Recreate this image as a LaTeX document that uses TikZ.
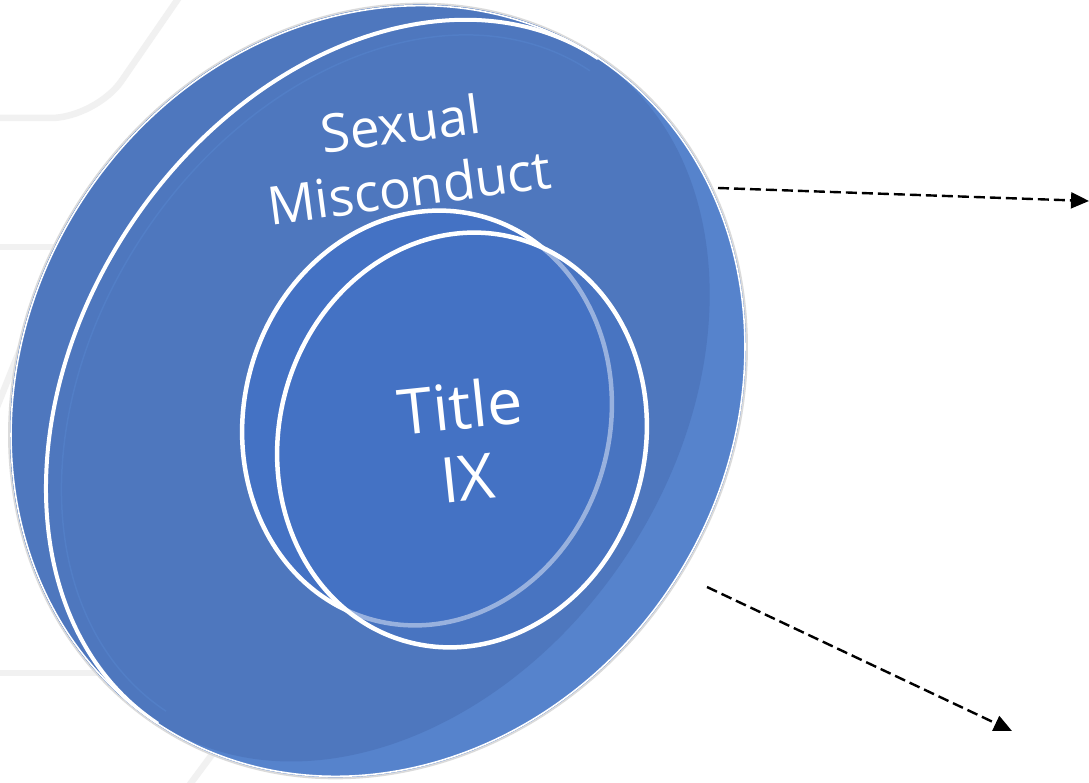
\documentclass[tikz,border=0pt]{standalone}
\usepackage{fontspec}
\setmainfont{Open Sans}
\usetikzlibrary{arrows.meta}
\definecolor{facebl}{HTML}{4E77BE}
\definecolor{bandbl}{HTML}{5683CC}
\definecolor{coinbl}{HTML}{4472C4}
\definecolor{bggray}{HTML}{F1F1F1}
\begin{document}
\begin{tikzpicture}[x=1pt,y=1pt,
  bgline/.style={draw=bggray,line width=6.5pt},
  disclabel/.style={text=white,align=center,inner sep=0pt},
  connector/.style={draw=black,line width=2.4pt,dash pattern=on 11pt off 5pt,-{Triangle[length=18pt,width=16pt]}},
  whitering/.style={draw=white,line width=4.5pt}]
\useasboundingbox (0,0) rectangle (1089,782);
\fill[white] (0,0) rectangle (1089,782);
% faint background lines
\draw[bgline,rounded corners=45pt] (180,786) -- (96,664) -- (-5,664);
\draw[bgline] (-5,535) -- (80,535);
\draw[bgline] (-5,109) -- (120,109);
\draw[bgline] (188,-5) -- (225,45);
\draw[bgline] (-5,370) -- (25,445);
% big disc
\begin{scope}[shift={(378,391)},rotate=56.5]
  \fill[black!14] (0,0) ellipse [x radius=402, y radius=355];
  \begin{scope}
    \clip (0,0) ellipse [x radius=400, y radius=353];
    \fill[bandbl] (-420,-420) rectangle (420,420);
    \fill[facebl] (-420,0) rectangle (420,420);
    \fill[facebl] (0,0) ellipse [x radius=398, y radius=298];
    \draw[color=bandbl!55!facebl, line width=1.5pt] (384,0) arc[start angle=0,end angle=180,x radius=384,y radius=282];
  \end{scope}
  \draw[white,line width=1.6pt] (0,0) ellipse [x radius=399, y radius=352];
  \begin{scope}
    \clip (0,0) ellipse [x radius=400, y radius=353];
    \draw[whitering,line width=4pt] (399,0) arc[start angle=0,end angle=180,x radius=399,y radius=298];
  \end{scope}
\end{scope}
% inner coin: back ring
\begin{scope}[shift={(427,364)},rotate=75]
  \fill[coinbl] (0,0) ellipse [x radius=209, y radius=183];
  \draw[whitering] (0,0) ellipse [x radius=209, y radius=183];
\end{scope}
% inner coin: front ring
\begin{scope}[shift={(462,342)},rotate=75]
  \fill[coinbl, fill opacity=0.55] (0,0) ellipse [x radius=209, y radius=183];
  \draw[whitering] (0,0) ellipse [x radius=209, y radius=183];
\end{scope}
% labels
\node[disclabel, rotate=7.5, font=\fontsize{53}{64}\selectfont] (outerlabel) at (405,627) {Sexual\\Misconduct};
\node[disclabel, rotate=6, font=\fontsize{63}{72}\selectfont] (innerlabel) at (464,341) {Title\\IX};
% connectors
\coordinate (s1) at (718,594);
\coordinate (e1) at (1089,581);
\coordinate (s2) at (707,195);
\coordinate (e2) at (1012,51);
\draw[connector] (s1) -- (e1);
\draw[connector] (s2) -- (e2);
\end{tikzpicture}
\end{document}
